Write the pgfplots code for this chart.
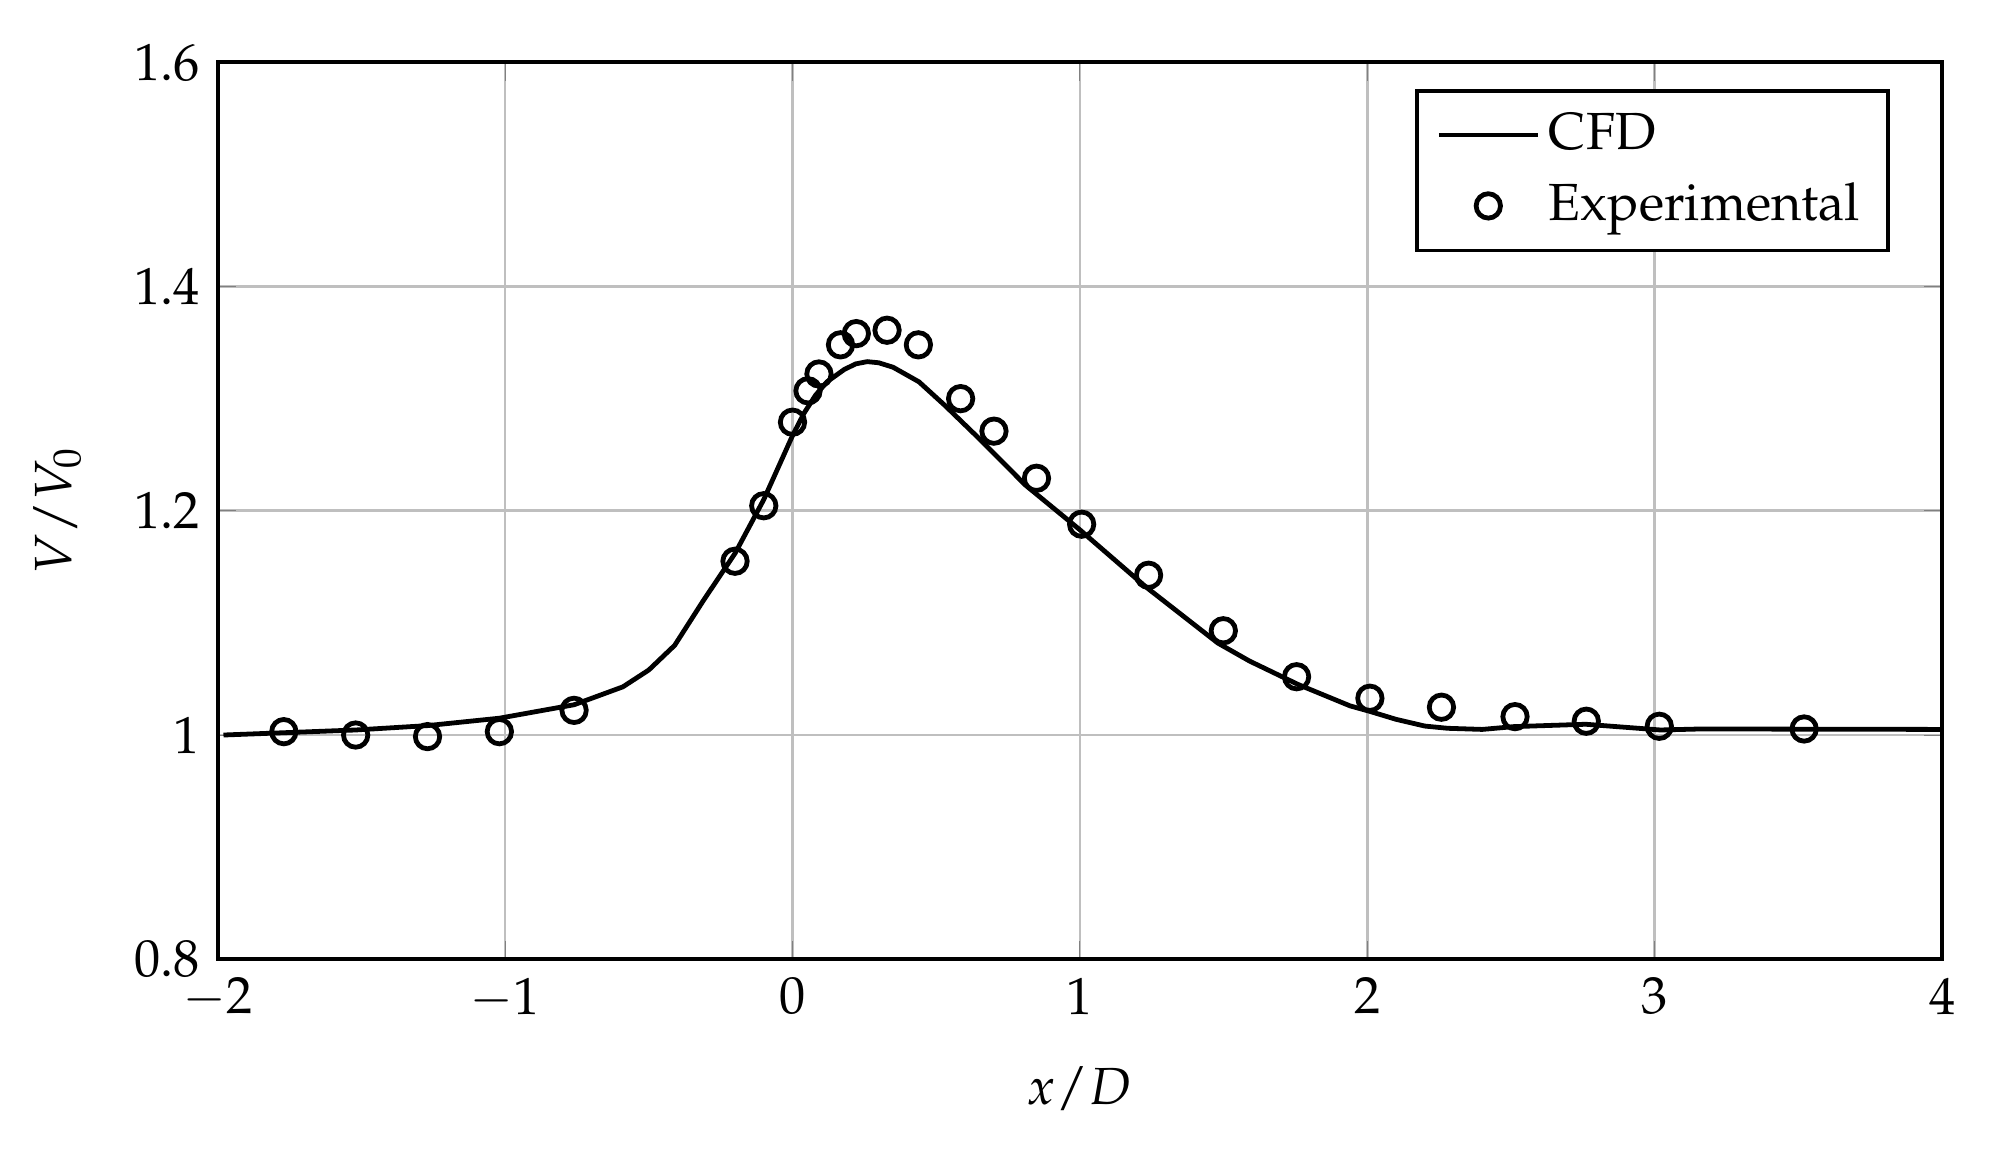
\documentclass[12pt,border=0pt]{standalone}
\usepackage[T1]{fontenc}
\usepackage{mathpazo}
\usepackage{pgfplots}
\pgfplotsset{compat=1.18}

\begin{document}
\begin{tikzpicture}
\begin{axis}[
    scale only axis,
    width=396pt, height=206pt,
    xmin=-2, xmax=4, ymin=0.8, ymax=1.6,
    xtick={-2,-1,0,1,2,3,4},
    ytick={0.8,1,1.2,1.4,1.6},
    grid=major,
    grid style={line width=0.6pt, draw=black!25},
    tick style={black!50},
    axis line style={line width=1pt},
    xlabel={$x/D$}, ylabel={$V/V_0$},
    xlabel style={yshift=-2.7pt},
    ylabel style={yshift=4pt},
    legend style={at={(0.97,0.97)}, anchor=north east, draw=black,
        line width=0.9pt, cells={anchor=west}, row sep=2pt,
        inner xsep=4.5pt, inner ysep=3pt},
    legend image code/.code={%
        \draw[mark repeat=2, mark phase=2, #1]
        plot coordinates {(0cm,0cm) (0.4cm,0cm) (0.8cm,0cm)};},
    legend image post style={line width=1.1pt},
]
% CFD
\addplot[black, line width=1.1pt] coordinates {
(-1.98,1.000) (-1.52,1.0045) (-1.27,1.0084) (-1.02,1.015) (-0.76,1.027)
(-0.59,1.043) (-0.50,1.058) (-0.41,1.080) (-0.31,1.120) (-0.20,1.162)
(-0.10,1.210) (0,1.267) (0.04,1.287) (0.08,1.303) (0.12,1.315)
(0.18,1.326) (0.22,1.331) (0.26,1.333) (0.30,1.332) (0.35,1.328)
(0.44,1.315) (0.53,1.294) (0.655,1.263) (0.81,1.223) (1.0,1.183)
(1.23,1.132) (1.48,1.082) (1.59,1.066) (1.76,1.045) (1.94,1.026)
(2.01,1.021) (2.1,1.014) (2.2,1.008) (2.28,1.006) (2.4,1.005)
(2.51,1.0075) (2.76,1.0096) (3.02,1.0045) (3.16,1.0054) (4.0,1.005)
};
\addlegendentry{CFD}
% experimental
\addplot[only marks, mark=o, mark size=2.8pt, black, line width=1.1pt] coordinates {
(-1.77,1.003) (-1.52,1.000) (-1.27,0.9986) (-1.02,1.003) (-0.76,1.022)
(-0.2,1.155) (-0.1,1.2045) (0,1.279) (0.054,1.307) (0.092,1.322)
(0.167,1.348) (0.222,1.358) (0.329,1.361) (0.438,1.348) (0.585,1.300)
(0.701,1.271) (0.849,1.229) (1.006,1.188) (1.239,1.1425) (1.499,1.093)
(1.754,1.052) (2.009,1.0328) (2.258,1.0248) (2.514,1.0164) (2.762,1.0123)
(3.016,1.0078) (3.52,1.0054)
};
\addlegendentry{Experimental}
\end{axis}
\path (current axis.south west) ++(-50pt,-43.4pt) (current axis.north east) ++(11pt,14.3pt);
\end{tikzpicture}
\end{document}
